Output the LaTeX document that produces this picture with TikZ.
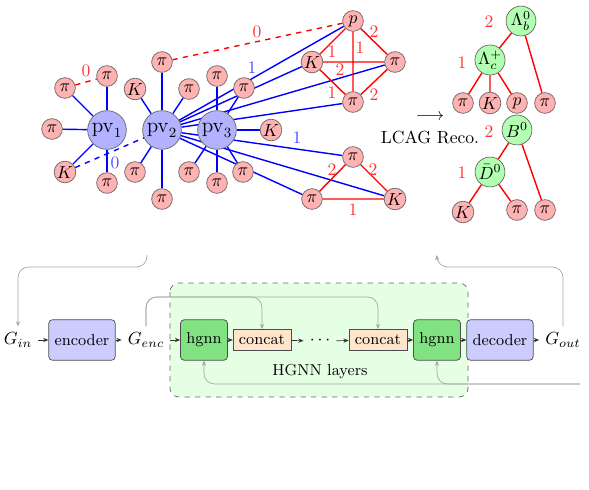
\documentclass[tikz,border=0pt]{standalone}
\usetikzlibrary{arrows.meta,backgrounds}
\definecolor{hgnngreen}{RGB}{128,226,128}

\begin{document}
\begin{tikzpicture}[x=0.02cm,y=-0.02cm,>={Stealth[length=3pt,width=2.4pt]},
	track/.style={circle,draw=black!60,fill=red!30,inner sep=0.3pt,minimum size=11.8pt},
	vertex/.style={circle,draw=black!60,fill=blue!30,inner sep=0pt,minimum size=22pt,font=\large},
	mother/.style={circle,draw=black!60,fill=green!30,inner sep=0pt,minimum size=17pt},
	pvedge/.style={blue,line width=0.8pt},
	lcaedge/.style={red,line width=0.8pt},
	redlbl/.style={text=red!80,inner sep=1pt},
	bluelbl/.style={text=blue!70,inner sep=1pt},
	block/.style={draw=black!70,rounded corners=2pt,minimum height=23pt,font=\small},
	flow/.style={->,black!80,line width=0.4pt},
	loopline/.style={->,black!35,line width=0.4pt,rounded corners=6pt}]
	\useasboundingbox (0,0) rectangle (589,490);
	% primary vertices
	\node[vertex] (pv1) at (107,130) {$\mathrm{pv}_1$};
	\node[vertex] (pv2) at (162,130) {$\mathrm{pv}_2$};
	\node[vertex] (pv3) at (217,130) {$\mathrm{pv}_3$};
	% tracks of pv1
	\node[track] (a1) at (65,88) {$\pi$};
	\node[track] (a2) at (107,76) {$\pi$};
	\node[track] (a3) at (52,129) {$\pi$};
	\node[track] (a4) at (65,172) {$K$};
	\node[track] (a5) at (107,183) {$\pi$};
	% tracks of pv2
	\node[track] (b1) at (162,62) {$\pi$};
	\node[track] (b2) at (135,89) {$K$};
	\node[track] (b3) at (189,89) {$\pi$};
	\node[track] (b4) at (135,172) {$\pi$};
	\node[track] (b5) at (162,199) {$\pi$};
	% tracks of pv3
	\node[track] (c1) at (217,76) {$\pi$};
	\node[track] (c2) at (244,88) {$\pi$};
	\node[track] (c3) at (271,130) {$K$};
	\node[track] (c4) at (189,172) {$\pi$};
	\node[track] (c5) at (217,183) {$\pi$};
	\node[track] (c6) at (243,172) {$\pi$};
	% decay clusters
	\node[track] (up) at (353,21) {$p$};
	\node[track] (uk) at (312,62) {$K$};
	\node[track] (ur) at (395,62) {$\pi$};
	\node[track] (ub) at (353,102) {$\pi$};
	\node[track] (lt) at (353,157) {$\pi$};
	\node[track] (ll) at (312,199) {$\pi$};
	\node[track] (lk) at (395,199) {$K$};
	\begin{scope}[on background layer]
		\foreach \t in {a1,a2,a3,a4,a5} \draw[pvedge] (pv1) -- (\t);
		\foreach \t in {b1,b2,b3,b4,b5} \draw[pvedge] (pv2) -- (\t);
		\foreach \t in {c1,c2,c3,c4,c5,c6} \draw[pvedge] (pv3) -- (\t);
		\foreach \t in {up,uk,ur,ub,lt,ll,lk} \draw[pvedge] (pv2) -- (\t);
		\draw[pvedge,dashed] (a4) -- (pv2);
		\draw[lcaedge,dashed] (a1) -- (a2);
		\draw[lcaedge,dashed] (b1) -- (up);
		\draw[lcaedge] (up) -- (uk) (up) -- (ur) (up) -- (ub)
			(uk) -- (ur) (uk) -- (ub) (ur) -- (ub);
		\draw[lcaedge] (lt) -- (ll) (lt) -- (lk) (ll) -- (lk);
	\end{scope}
	% edge classes
	\node[redlbl] (l01) at (86,71) {0};
	\node[redlbl] (l02) at (257,32) {0};
	\node[bluelbl] (l03) at (115,163) {0};
	\node[bluelbl] (l11) at (252,68) {1};
	\node[bluelbl] (l12) at (297,138) {1};
	\node[redlbl] (lu1) at (332,52) {1};
	\node[redlbl] (lu2) at (374,32) {2};
	\node[redlbl] (lu3) at (360,48) {1};
	\node[redlbl] (lu4) at (340,70) {2};
	\node[redlbl] (lu5) at (332,93) {1};
	\node[redlbl] (lu6) at (374,95) {2};
	\node[redlbl] (ll1) at (332,170) {2};
	\node[redlbl] (ll2) at (373,170) {2};
	\node[redlbl] (ll3) at (353,210) {1};
	% reconstruction
	\node (arrow) at (430,117) {$\longrightarrow$};
	\node (reco) at (430,137) {LCAG Reco.};
	% decay trees
	\node[mother] (lb) at (521,21) {$\Lambda_b^0$};
	\node[mother] (lc) at (490,60) {$\Lambda_c^+$};
	\node[track] (t1) at (463,103) {$\pi$};
	\node[track] (t2) at (490,103) {$K$};
	\node[track] (t3) at (517,103) {$p$};
	\node[track] (t4) at (545,103) {$\pi$};
	\node[mother] (bz) at (517,130) {$B^0$};
	\node[mother] (dz) at (490,172) {$\bar{D}^0$};
	\node[track] (s1) at (463,212) {$K$};
	\node[track] (s2) at (517,210) {$\pi$};
	\node[track] (s3) at (545,210) {$\pi$};
	\draw[lcaedge] (lb) -- (lc) (lb) -- (t4) (lc) -- (t1) (lc) -- (t2) (lc) -- (t3);
	\draw[lcaedge] (bz) -- (dz) (bz) -- (s3) (dz) -- (s1) (dz) -- (s2);
	\node[redlbl] (d1) at (489,22) {2};
	\node[redlbl] (d2) at (462,63) {1};
	\node[redlbl] (d3) at (489,132) {2};
	\node[redlbl] (d4) at (462,173) {1};
	% model
	\draw[black!60,dashed,fill=green!10,rounded corners=5pt] (170,283) rectangle (468,397);
	\node (hlayers) at (320,372) {\small HGNN layers};
	\node (gin) at (18,340) {$G_{in}$};
	\node[block,fill=blue!20,minimum width=33pt] (enc) at (82,340) {encoder};
	\node (genc) at (146,340) {$G_{enc}$};
	\node[block,fill=hgnngreen,minimum width=22pt] (h1) at (204,340) {hgnn};
	\node[block,fill=orange!20,rounded corners=0pt,minimum height=12pt,inner ysep=1pt] (cc1) at (262,340) {concat};
	\node (dots) at (320,341) {$\cdots$};
	\node[block,fill=orange!20,rounded corners=0pt,minimum height=12pt,inner ysep=1pt] (cc2) at (378,340) {concat};
	\node[block,fill=hgnngreen,minimum width=22pt] (h2) at (437,340) {hgnn};
	\node[block,fill=blue!20,minimum width=32pt] (dec) at (500,340) {decoder};
	\node (gout) at (563,340) {$G_{out}$};
	\draw[flow] (gin) -- (enc);
	\draw[flow] (enc) -- (genc);
	\draw[flow] (genc) -- (h1);
	\draw[flow] (h1) -- (cc1);
	\draw[flow] (cc1) -- (dots);
	\draw[flow] (dots) -- (cc2);
	\draw[flow] (cc2) -- (h2);
	\draw[flow] (h2) -- (dec);
	\draw[flow] (dec) -- (gout);
	% skip and feedback lines
	\coordinate (skip) at (146,297);
	\draw[loopline] (genc.north) -- (skip) -| (cc1.north);
	\draw[loopline] (genc.north) -- (skip) -| (cc2.north);
	\coordinate (back) at (580,384);
	\draw[loopline] (back) -| (h2.south);
	\draw[loopline] (back) -| (h1.south);
	\coordinate (fromtop) at (147,255);
	\coordinate (tobot) at (437,255);
	\coordinate (turn) at (0,267);
	\draw[loopline] (fromtop) |- (gin.north |- turn) -- (gin.north);
	\draw[loopline] (gout.north) |- (tobot |- turn) -- (tobot);
\end{tikzpicture}
\end{document}
